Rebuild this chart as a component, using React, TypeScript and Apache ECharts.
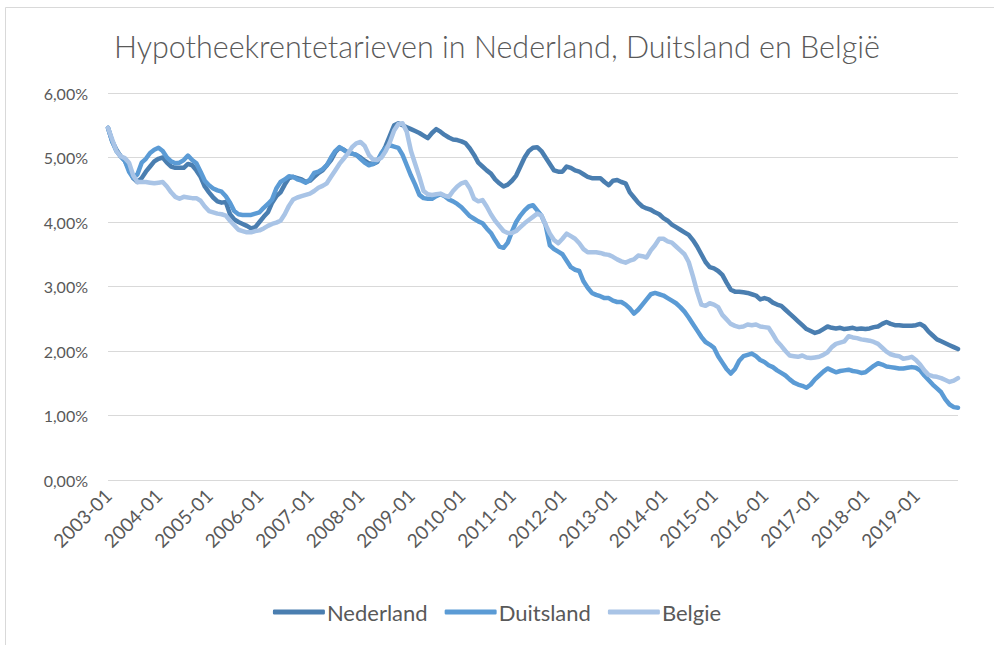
import React, { useEffect, useRef } from "react";
import * as echarts from "echarts";

const startYear = 2003;
const monthCount = 203;
const categories: string[] = [];
for (let i = 0; i < monthCount; i++) {
  const y = startYear + Math.floor(i / 12);
  const m = (i % 12) + 1;
  categories.push(`${y}-${m < 10 ? "0" + m : m}`);
}

const seriesNames = ["Nederland", "Duitsland", "Belgie"];
const chartTitle = "Hypotheekrentetarieven in Nederland, Duitsland en België";

const nederland = [
  5.46, 5.25, 5.12, 5.02, 4.95, 4.82, 4.68, 4.62, 4.68, 4.78, 4.86, 4.94,
  4.98, 5.0, 4.92, 4.86, 4.84, 4.84, 4.84, 4.9, 4.88, 4.8, 4.7, 4.55,
  4.46, 4.38, 4.32, 4.3, 4.31, 4.12, 4.04, 4.0, 3.97, 3.94, 3.9, 3.92,
  4.0, 4.08, 4.15, 4.3, 4.4, 4.46, 4.58, 4.68, 4.7, 4.68, 4.66, 4.62,
  4.64, 4.7, 4.76, 4.8, 4.88, 4.96, 5.08, 5.15, 5.12, 5.08, 5.06, 5.04,
  5.0, 4.95, 4.91, 4.9, 4.93, 5.05, 5.18, 5.34, 5.5, 5.53, 5.5, 5.47,
  5.44, 5.41, 5.38, 5.34, 5.3, 5.38, 5.44, 5.4, 5.35, 5.31, 5.28, 5.27,
  5.25, 5.22, 5.14, 5.04, 4.92, 4.86, 4.8, 4.75, 4.66, 4.6, 4.55, 4.58,
  4.64, 4.72, 4.86, 5.0, 5.1, 5.15, 5.16, 5.1, 5.0, 4.9, 4.8, 4.78,
  4.78, 4.86, 4.84, 4.8, 4.78, 4.74, 4.7, 4.68, 4.68, 4.68, 4.62, 4.57,
  4.64, 4.65, 4.62, 4.6, 4.46, 4.38, 4.3, 4.24, 4.21, 4.19, 4.15, 4.12,
  4.06, 4.02, 3.96, 3.92, 3.88, 3.84, 3.8, 3.72, 3.62, 3.5, 3.38, 3.3,
  3.28, 3.24, 3.18, 3.06, 2.95, 2.92, 2.92, 2.91, 2.9, 2.88, 2.86, 2.8,
  2.82, 2.8, 2.75, 2.72, 2.7, 2.64, 2.58, 2.52, 2.46, 2.4, 2.34, 2.31,
  2.28, 2.3, 2.34, 2.38, 2.36, 2.35, 2.36, 2.34, 2.35, 2.36, 2.34, 2.35,
  2.34, 2.35, 2.37, 2.38, 2.42, 2.45, 2.42, 2.4, 2.4, 2.39, 2.39, 2.39,
  2.4, 2.42, 2.38, 2.3, 2.24, 2.18, 2.15, 2.12, 2.09, 2.06, 2.03,
];

const duitsland = [
  5.46, 5.25, 5.1, 5.02, 4.95, 4.78, 4.68, 4.74, 4.92, 4.98, 5.07, 5.12,
  5.15, 5.1, 5.0, 4.94, 4.91, 4.92, 4.96, 5.03, 4.96, 4.91, 4.78, 4.64,
  4.57, 4.52, 4.49, 4.47, 4.4, 4.3, 4.17, 4.12, 4.11, 4.11, 4.11, 4.13,
  4.15, 4.22, 4.28, 4.35, 4.52, 4.62, 4.66, 4.71, 4.7, 4.66, 4.64, 4.61,
  4.66, 4.76, 4.78, 4.82, 4.88, 5.0, 5.1, 5.16, 5.12, 5.07, 5.06, 5.04,
  4.98, 4.92, 4.88, 4.9, 4.95, 5.07, 5.15, 5.19, 5.17, 5.15, 5.04, 4.88,
  4.72, 4.58, 4.42, 4.37, 4.36, 4.36, 4.4, 4.43, 4.4, 4.35, 4.32, 4.28,
  4.23, 4.16, 4.09, 4.05, 4.01, 3.98, 3.9, 3.83, 3.72, 3.62, 3.6, 3.68,
  3.85, 4.0, 4.1, 4.18, 4.24, 4.26, 4.18, 4.1, 3.95, 3.64, 3.58, 3.54,
  3.5, 3.4, 3.3, 3.26, 3.24, 3.08, 2.98, 2.9, 2.87, 2.85, 2.82, 2.82,
  2.78, 2.76, 2.76, 2.72, 2.66, 2.58, 2.64, 2.72, 2.8, 2.88, 2.9, 2.88,
  2.86, 2.82, 2.78, 2.74, 2.68, 2.61, 2.52, 2.42, 2.32, 2.22, 2.14, 2.1,
  2.05, 1.92, 1.82, 1.72, 1.65, 1.72, 1.85, 1.92, 1.94, 1.96, 1.92, 1.86,
  1.83, 1.78, 1.75, 1.7, 1.66, 1.62, 1.56, 1.51, 1.48, 1.46, 1.43, 1.48,
  1.56, 1.62, 1.68, 1.73, 1.7, 1.67, 1.69, 1.7, 1.71, 1.69, 1.68, 1.66,
  1.67, 1.72, 1.77, 1.81, 1.79, 1.76, 1.75, 1.74, 1.73, 1.73, 1.74, 1.75,
  1.74, 1.7, 1.62, 1.55, 1.48, 1.42, 1.36, 1.25, 1.17, 1.13, 1.12,
];

const belgie = [
  5.46, 5.28, 5.1, 5.02, 4.99, 4.92, 4.72, 4.62, 4.62, 4.62, 4.61, 4.6,
  4.61, 4.62, 4.55, 4.46, 4.39, 4.36, 4.39, 4.38, 4.37, 4.37, 4.33, 4.24,
  4.17, 4.15, 4.13, 4.12, 4.1, 4.02, 3.95, 3.88, 3.86, 3.84, 3.84, 3.86,
  3.87, 3.9, 3.94, 3.97, 3.99, 4.02, 4.12, 4.25, 4.35, 4.38, 4.4, 4.42,
  4.44, 4.48, 4.53, 4.56, 4.6, 4.7, 4.8, 4.9, 4.98, 5.06, 5.16, 5.22,
  5.24, 5.18, 5.04, 4.97, 4.96, 5.0, 5.1, 5.24, 5.42, 5.52, 5.53, 5.4,
  5.1, 4.9, 4.7, 4.48, 4.43, 4.42, 4.43, 4.44, 4.41, 4.39, 4.48, 4.55,
  4.6, 4.62, 4.52, 4.36, 4.32, 4.34, 4.24, 4.12, 4.02, 3.94, 3.86, 3.83,
  3.83, 3.86, 3.92, 3.98, 4.03, 4.08, 4.13, 4.1, 3.96, 3.82, 3.72, 3.67,
  3.74, 3.82, 3.78, 3.74, 3.67, 3.58, 3.53, 3.53, 3.53, 3.52, 3.5, 3.49,
  3.46, 3.42, 3.39, 3.37, 3.4, 3.42, 3.48, 3.47, 3.45, 3.56, 3.64, 3.74,
  3.74, 3.7, 3.68, 3.62, 3.56, 3.5, 3.38, 3.16, 2.92, 2.72, 2.7, 2.74,
  2.72, 2.68, 2.56, 2.49, 2.42, 2.39, 2.37, 2.38, 2.41, 2.4, 2.41, 2.38,
  2.37, 2.36, 2.26, 2.15, 2.08, 2.0, 1.93, 1.92, 1.91, 1.93, 1.9, 1.89,
  1.9, 1.91, 1.94, 1.98, 2.06, 2.11, 2.13, 2.15, 2.23, 2.21, 2.2, 2.18,
  2.17, 2.16, 2.14, 2.11, 2.05, 1.99, 1.95, 1.93, 1.92, 1.88, 1.89, 1.91,
  1.86, 1.79, 1.7, 1.63, 1.61, 1.6, 1.58, 1.55, 1.52, 1.54, 1.58,
];

const yTicks = [0, 1, 2, 3, 4, 5, 6];
const colors = ["#4a7eb0", "#5b9bd5", "#a9c4e6"];
const FONT = "Lato, 'Noto Sans', sans-serif";

export default function App() {
  const ref = useRef<HTMLDivElement>(null);
  useEffect(() => {
    if (!ref.current) return;
    const chart = echarts.init(ref.current, undefined, { renderer: "svg" });
    const values = [nederland, duitsland, belgie];
    chart.setOption({
      animation: false,
      backgroundColor: "#ffffff",
      textStyle: { fontFamily: FONT },
      title: {
        text: chartTitle,
        left: "center",
        top: 25,
        textStyle: { fontFamily: FONT, fontSize: 30.5, fontWeight: 300, color: "#595959" },
      },
      graphic: [
        {
          type: "rect",
          shape: { x: 5.5, y: 7.5, width: 1000, height: 700 },
          style: { fill: "none", stroke: "#d9d9d9", lineWidth: 1 },
          silent: true,
          z: -10,
        },
      ],
      grid: { left: 108, right: 36, top: 93, bottom: 165, containLabel: false },
      legend: {
        data: seriesNames,
        top: 596,
        left: "center",
        icon: "roundRect",
        itemWidth: 52,
        itemHeight: 5,
        itemGap: 17,
        textStyle: { fontFamily: FONT, fontSize: 22, color: "#595959", padding: [0, 0, 0, -3] },
      },
      xAxis: {
        type: "category",
        data: categories,
        boundaryGap: false,
        axisLine: { show: false },
        axisTick: { show: false },
        axisLabel: {
          interval: 11,
          rotate: 45,
          color: "#595959",
          fontFamily: FONT,
          fontSize: 19,
          margin: 12,
        },
        splitLine: { show: false },
      },
      yAxis: {
        type: "value",
        min: yTicks[0],
        max: yTicks[yTicks.length - 1],
        interval: 1,
        axisLine: { show: false },
        axisTick: { show: false },
        axisLabel: {
          color: "#595959",
          fontFamily: FONT,
          fontSize: 16,
          margin: 20,
          formatter: (v: number) => v.toFixed(2).replace(".", ",") + "%",
        },
        splitLine: { lineStyle: { color: "#d9d9d9", width: 1 } },
      },
      series: seriesNames.map((name, i) => ({
        name,
        type: "line",
        data: values[i],
        showSymbol: false,
        symbol: "none",
        color: colors[i],
        lineStyle: { width: 4.5, color: colors[i], cap: "round", join: "round" },
        itemStyle: { color: colors[i] },
      })),
    });
    return () => chart.dispose();
  }, []);
  return <div ref={ref} style={{ width: 994, height: 645, position: "absolute", left: 0, top: 0 }} />;
}
